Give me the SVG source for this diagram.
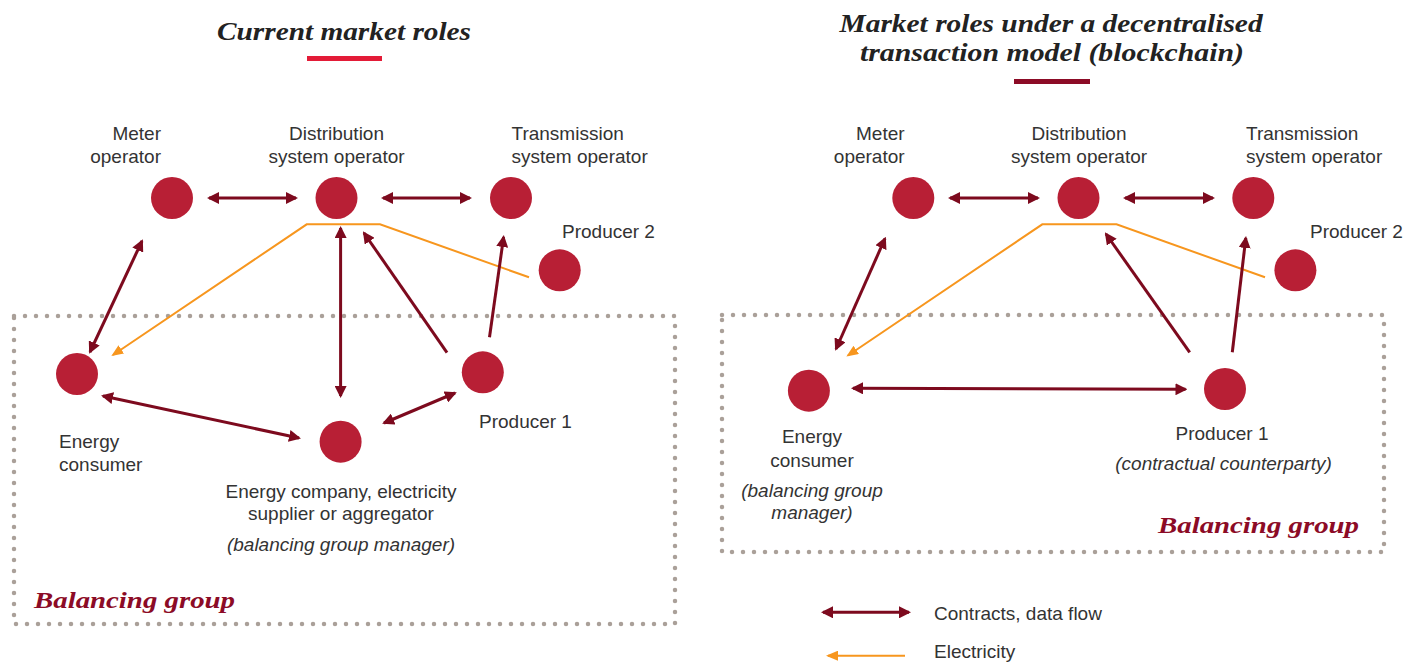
<svg xmlns="http://www.w3.org/2000/svg" width="1415" height="663" viewBox="0 0 1415 663">
<style>
.node{fill:#b81f35}
.t{font-family:"Liberation Sans",Arial,sans-serif;font-size:19px;fill:#333}
.i{font-style:italic}
.m{text-anchor:middle}
.e{text-anchor:end}
.title{font-family:"Liberation Serif","Times New Roman",serif;font-weight:bold;font-style:italic;font-size:25px;fill:#222}
.bgl{font-family:"Liberation Serif","Times New Roman",serif;font-weight:bold;font-style:italic;font-size:24px;fill:#8c0b26}
.contract{stroke:#7d0a1e;stroke-width:3;fill:none;marker-end:url(#ah)}
.both{marker-start:url(#ah)}
.elec{stroke:#f7961e;stroke-width:2;fill:none;marker-end:url(#oh)}
.box{fill:none;stroke:#aaa099;stroke-width:4.5;stroke-dasharray:0 11;stroke-linecap:round}
</style>
<defs>
<marker id="ah" viewBox="0 0 12 12" refX="10" refY="6" markerWidth="12" markerHeight="12" markerUnits="userSpaceOnUse" orient="auto-start-reverse"><path d="M0,0 L12,6 L0,12 z" fill="#7d0a1e"/></marker>
<marker id="oh" viewBox="0 0 12 10" refX="10" refY="5" markerWidth="12" markerHeight="10" markerUnits="userSpaceOnUse" orient="auto"><path d="M0,0 L12,5 L0,10 z" fill="#f7961e"/></marker>
</defs>
<rect width="1415" height="663" fill="#fff"/>

<!-- Left panel -->
<g id="title-left">
<text class="title" x="217" y="40" textLength="254" lengthAdjust="spacingAndGlyphs">Current market roles</text>
<rect x="307" y="56" width="75" height="5" fill="#e31b37"/>
</g>
<g id="box-left">
<rect class="box" x="14" y="316" width="661" height="308"/>
<text class="bgl" x="34" y="608" textLength="201" lengthAdjust="spacingAndGlyphs">Balancing group</text>
</g>

<g id="L-connectors">
<polyline class="elec" points="529,277.3 380,224.3 306.7,224.3 113,355"/>
<line class="contract both" x1="209" y1="198" x2="296" y2="198"/>
<line class="contract both" x1="383" y1="198" x2="470" y2="198"/>
<line class="contract both" x1="142" y1="241" x2="90" y2="352"/>
<line class="contract both" x1="340.6" y1="228" x2="340.6" y2="396"/>
<line class="contract" x1="447" y1="352.7" x2="364" y2="233"/>
<line class="contract" x1="489.5" y1="337.3" x2="503.6" y2="237"/>
<line class="contract both" x1="103" y1="396" x2="299" y2="438"/>
<line class="contract both" x1="384" y1="423" x2="455" y2="393"/>
</g>

<g id="L-meter"><circle class="node" cx="172" cy="198" r="21"/>
<text class="t e" x="161" y="140">Meter</text><text class="t e" x="161" y="163">operator</text></g>
<g id="L-dso"><circle class="node" cx="336.5" cy="198" r="21"/>
<text class="t m" x="336.5" y="140">Distribution</text><text class="t m" x="336.5" y="163">system operator</text></g>
<g id="L-tso"><circle class="node" cx="511" cy="198" r="21"/>
<text class="t" x="511.5" y="140">Transmission</text><text class="t" x="511.5" y="163">system operator</text></g>
<g id="L-producer2"><circle class="node" cx="559.7" cy="270.3" r="21"/>
<text class="t" x="562" y="238">Producer 2</text></g>
<g id="L-consumer"><circle class="node" cx="77" cy="374" r="21"/>
<text class="t" x="59" y="448">Energy</text><text class="t" x="59" y="471">consumer</text></g>
<g id="L-company"><circle class="node" cx="340.6" cy="441.7" r="21"/>
<text class="t m" x="341" y="498">Energy company, electricity</text>
<text class="t m" x="341" y="520">supplier or aggregator</text>
<text class="t m i" x="341" y="551">(balancing group manager)</text></g>
<g id="L-producer1"><circle class="node" cx="482.8" cy="372.3" r="21"/>
<text class="t" x="479" y="428">Producer 1</text></g>

<!-- Right panel -->
<g id="title-right">
<text class="title" x="839.6" y="32" textLength="423" lengthAdjust="spacingAndGlyphs">Market roles under a decentralised</text>
<text class="title" x="860" y="61" textLength="384" lengthAdjust="spacingAndGlyphs">transaction model (blockchain)</text>
<rect x="1014" y="79" width="76" height="5" fill="#8c0b26"/>
</g>
<g id="box-right">
<rect class="box" x="722" y="315" width="662" height="237"/>
<text class="bgl" x="1158" y="533" textLength="201" lengthAdjust="spacingAndGlyphs">Balancing group</text>
</g>

<g id="R-connectors">
<polyline class="elec" points="1265,277.3 1116.5,224.3 1042.3,224.3 848,355.5"/>
<line class="contract both" x1="950" y1="198" x2="1038" y2="198"/>
<line class="contract both" x1="1125" y1="198" x2="1213" y2="198"/>
<line class="contract both" x1="885" y1="238.5" x2="836" y2="349"/>
<line class="contract" x1="1189.7" y1="352.3" x2="1106" y2="234"/>
<line class="contract" x1="1232.3" y1="352.3" x2="1245.8" y2="238"/>
<line class="contract both" x1="853" y1="388.3" x2="1185.5" y2="389.3"/>
</g>

<g id="R-meter"><circle class="node" cx="913.3" cy="198" r="21"/>
<text class="t e" x="904.6" y="140">Meter</text><text class="t e" x="904.6" y="163">operator</text></g>
<g id="R-dso"><circle class="node" cx="1078.5" cy="198" r="21"/>
<text class="t m" x="1079" y="140">Distribution</text><text class="t m" x="1079" y="163">system operator</text></g>
<g id="R-tso"><circle class="node" cx="1253.3" cy="198" r="21"/>
<text class="t" x="1246" y="140">Transmission</text><text class="t" x="1246" y="163">system operator</text></g>
<g id="R-producer2"><circle class="node" cx="1295.4" cy="270.3" r="21"/>
<text class="t" x="1310" y="238">Producer 2</text></g>
<g id="R-consumer"><circle class="node" cx="808.9" cy="390.7" r="21"/>
<text class="t m" x="812" y="443">Energy</text><text class="t m" x="812" y="467">consumer</text>
<text class="t m i" x="812" y="497">(balancing group</text><text class="t m i" x="812" y="519">manager)</text></g>
<g id="R-producer1"><circle class="node" cx="1225" cy="389" r="21"/>
<text class="t m" x="1222" y="440">Producer 1</text>
<text class="t m i" x="1223.5" y="470">(contractual counterparty)</text></g>

<!-- Legend -->
<g id="legend">
<line class="contract both" x1="823" y1="612.3" x2="909" y2="612.3"/>
<text class="t" x="934" y="620">Contracts, data flow</text>
<line class="elec" x1="905" y1="655.7" x2="828" y2="655.7"/>
<text class="t" x="934" y="658">Electricity</text>
</g>
</svg>
